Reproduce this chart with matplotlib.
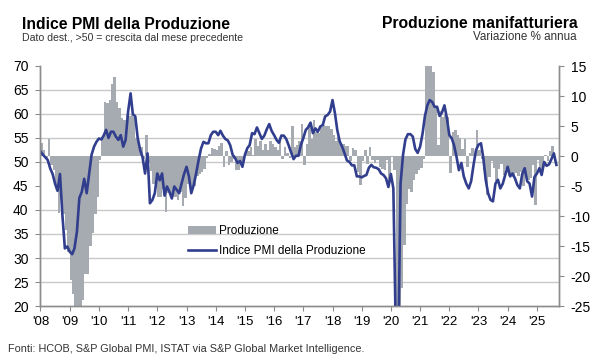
import matplotlib
matplotlib.use("Agg")
import matplotlib.pyplot as plt
import numpy as np
import pandas as pd

plt.rcParams["font.family"] = ["Liberation Sans", "DejaVu Sans"]

# PMI output index (left axis), monthly from Jan 2008 to Sep 2025
pmi_2008 = [52.2, 51.5, 51.0, 50.4, 48.7, 47.5, 45.5, 44.0, 47.5, 39.0, 32.0, 32.4]
pmi_2009 = [31.3, 30.8, 32.0, 35.5, 42.5, 43.8, 46.5, 43.5, 47.5, 51.5, 53.2, 54.2]
pmi_2010 = [54.9, 54.7, 55.5, 56.7, 55.0, 56.3, 56.3, 55.3, 54.6, 55.6, 53.2, 54.6]
pmi_2011 = [60.5, 64.3, 60.0, 59.5, 55.0, 52.5, 51.0, 47.6, 51.8, 41.4, 42.1, 43.5]
pmi_2012 = [47.6, 46.2, 47.6, 43.0, 44.9, 43.8, 42.4, 44.9, 44.2, 43.5, 45.6, 47.5]
pmi_2013 = [49.0, 46.9, 43.5, 45.2, 47.6, 50.4, 52.8, 54.2, 53.9, 53.9, 55.6, 56.3]
pmi_2014 = [56.3, 55.6, 56.5, 55.5, 54.8, 54.5, 53.5, 51.5, 50.8, 49.8, 50.2, 49.0]
pmi_2015 = [51.5, 52.9, 53.5, 56.0, 55.8, 57.2, 56.0, 54.8, 55.5, 56.8, 57.9, 56.5]
pmi_2016 = [55.6, 54.6, 54.0, 55.5, 55.5, 54.8, 53.5, 52.0, 50.6, 51.3, 51.3, 53.5]
pmi_2017 = [55.0, 56.7, 57.2, 58.2, 56.0, 57.0, 56.3, 57.4, 57.7, 59.5, 59.8, 60.5]
pmi_2018 = [62.9, 60.1, 56.7, 54.3, 53.2, 51.8, 50.3, 50.0, 49.3, 49.3, 47.0, 47.0]
pmi_2019 = [46.8, 47.1, 47.3, 48.8, 49.4, 48.9, 48.8, 48.5, 47.6, 47.3, 46.6, 44.8]
pmi_2020 = [47.5, 44.5, 16.0, 8.0, 45.5, 51.5, 54.7, 55.8, 55.8, 55.3, 52.7, 51.9]
pmi_2021 = [53.2, 56.0, 59.5, 61.8, 62.9, 62.5, 61.5, 61.5, 59.6, 60.3, 61.8, 59.2]
pmi_2022 = [55.6, 54.9, 53.5, 51.1, 48.3, 49.8, 47.0, 45.5, 44.5, 46.0, 49.5, 52.5]
pmi_2023 = [53.6, 53.9, 51.0, 46.3, 43.5, 42.1, 41.8, 45.5, 46.3, 44.5, 45.5, 47.3]
pmi_2024 = [49.0, 47.0, 47.6, 46.6, 45.2, 44.5, 47.5, 48.7, 46.0, 45.5, 42.8, 46.9]
pmi_2025 = [47.6, 48.7, 47.3, 50.0, 49.2, 49.5, 50.6, 51.8, 49.4]

# Manufacturing production, % y/y (right axis), Jan 2008 to Aug 2025
prod_2008 = [2.1, 1.0, -0.5, 2.9, -1.5, -2.3, -5.0, -9.5, -6.5, -9.6, -12.3, -16.0]
prod_2009 = [-20.7, -23.0, -26.0, -27.0, -25.5, -24.0, -19.6, -19.6, -15.0, -12.9, -9.6, -6.8]
prod_2010 = [-0.7, 3.0, 9.0, 8.8, 9.3, 12.0, 13.2, 9.0, 8.0, 6.3, 6.0, 6.8]
prod_2011 = [6.6, 7.0, 6.5, 3.0, 2.0, 1.5, -0.5, 3.5, -1.2, -2.5, -4.6, -5.1]
prod_2012 = [-6.8, -6.8, -5.5, -9.3, -6.2, -6.2, -6.8, -6.8, -7.3, -6.0, -8.4, -7.0]
prod_2013 = [-4.6, -4.0, -5.1, -5.0, -3.4, -3.0, -2.6, -2.2, -0.3, 0.3, 1.3, 1.2]
prod_2014 = [1.0, 1.6, 2.2, -1.8, 0.8, -1.5, -1.0, -0.5, -2.3, -2.3, -1.5, -1.0]
prod_2015 = [0.5, 0.8, 1.5, 0.2, 2.9, 1.6, 2.5, 1.0, 2.0, 1.0, 2.5, 2.0]
prod_2016 = [1.5, 1.0, 2.5, -0.5, 1.5, 0.5, -0.3, 5.0, 1.5, 1.8, 2.5, 5.4]
prod_2017 = [-1.5, 2.0, 5.4, 2.9, 6.0, 4.0, 3.8, 4.9, 5.2, 5.0, 5.0, 4.5]
prod_2018 = [3.5, 2.5, 3.2, 1.8, 2.0, 1.6, 1.6, -0.8, 1.3, 1.0, -2.6, -4.8]
prod_2019 = [-0.8, 1.0, -1.4, 1.5, -0.7, -1.2, -0.7, -1.8, -2.1, -2.4, -0.6, -4.3]
prod_2020 = [-0.1, -2.4, -29.0, -42.0, -22.0, -14.8, -8.0, -5.5, -6.0, -4.0, -3.0, -2.3]
prod_2021 = [-2.0, -0.5, 38.0, 79.0, 21.0, 14.0, 8.0, 1.8, 7.5, 6.5, 7.0, 6.5]
prod_2022 = [-2.9, 4.0, 4.3, 3.5, 3.0, 1.2, 2.9, -1.8, 0.5, 1.3, -0.5, 4.4]
prod_2023 = [1.0, -0.5, -2.3, -6.5, -3.5, -0.8, -2.0, -4.2, -2.1, -1.3, -3.1, -2.1]
prod_2024 = [-3.4, -3.1, -3.5, -2.9, -3.3, -2.6, -5.0, -3.2, -4.0, -3.6, -1.5, -8.2]
prod_2025 = [-0.6, -2.7, -1.8, 0.1, -0.9, 0.9, 1.7, -0.8]

pmi = np.concatenate([pmi_2008, pmi_2009, pmi_2010, pmi_2011, pmi_2012, pmi_2013,
                      pmi_2014, pmi_2015, pmi_2016, pmi_2017, pmi_2018, pmi_2019,
                      pmi_2020, pmi_2021, pmi_2022, pmi_2023, pmi_2024, pmi_2025])
prod = np.concatenate([prod_2008, prod_2009, prod_2010, prod_2011, prod_2012, prod_2013,
                       prod_2014, prod_2015, prod_2016, prod_2017, prod_2018, prod_2019,
                       prod_2020, prod_2021, prod_2022, prod_2023, prod_2024, prod_2025])

pmi_dates = pd.date_range("2008-01-01", periods=len(pmi), freq="MS")
prod_dates = pmi_dates[:len(prod)]

year_ticks = pd.date_range("2008-01-01", "2025-01-01", freq="YS")
year_labels = ["'" + d.strftime("%y") for d in year_ticks]
pmi_ticks = np.arange(20, 71, 5)
prod_ticks = np.arange(-25, 16, 5)
pmi_lim = (20, 70)
prod_lim = (-25, 15)

bar_color = "#a6abb1"
line_color = "#313e8e"
grid_color = "#c8c8c8"
axis_color = "#8c8c8c"


def pmi_to_prod(v):
    # position of a left-axis value on the right-axis scale (for gridlines)
    return prod_lim[0] + (np.asarray(v) - pmi_lim[0]) * (prod_lim[1] - prod_lim[0]) / (pmi_lim[1] - pmi_lim[0])


fig = plt.figure(figsize=(6, 3.6), dpi=100)
ax_bar = fig.add_axes([40 / 600, 1 - 306 / 360, 519 / 600, 240 / 360])
ax_pmi = ax_bar.twinx()

# bars: production, right axis
bars = ax_bar.bar(prod_dates, prod, width=31, align="edge", color=bar_color,
                  linewidth=0, label="Produzione")
ax_bar.set_ylim(*prod_lim)
ax_bar.yaxis.tick_right()
ax_bar.set_yticks(prod_ticks)
ax_bar.set_yticklabels([str(v) for v in prod_ticks])
ax_bar.set_yticks(pmi_to_prod(pmi_ticks), minor=True)
ax_bar.yaxis.grid(True, which="minor", color=grid_color, lw=1.0)
ax_bar.set_axisbelow(True)
ax_bar.tick_params(axis="y", which="minor", length=0, labelleft=False, labelright=False)
ax_bar.tick_params(axis="y", which="major", direction="out", length=3.3, width=0.8,
                   color=axis_color, labelsize=10, pad=5,
                   left=False, labelleft=False, right=True, labelright=True)

ax_bar.set_xlim(pd.Timestamp("2007-12-26"), pd.Timestamp("2025-10-04"))
ax_bar.set_xticks(year_ticks)
ax_bar.set_xticklabels(year_labels)
ax_bar.tick_params(axis="x", direction="out", length=3.3, width=0.8,
                   color=axis_color, labelsize=9.5, pad=4)

# line: PMI output, left axis
line, = ax_pmi.plot(pmi_dates, pmi, color=line_color, lw=1.9,
                    label="Indice PMI della Produzione")
ax_pmi.set_ylim(*pmi_lim)
ax_pmi.set_yticks(pmi_ticks)
ax_pmi.set_yticklabels([str(v) for v in pmi_ticks])
ax_pmi.tick_params(axis="y", direction="out", length=3.3, width=0.8,
                   color=axis_color, labelsize=10, pad=5,
                   left=True, labelleft=True, right=False, labelright=False)

for a in (ax_bar, ax_pmi):
    a.spines["top"].set_visible(False)
    for s in ("left", "right", "bottom"):
        a.spines[s].set_color(axis_color)
        a.spines[s].set_linewidth(1.0)

ax_pmi.legend(handles=[bars, line], loc="upper left", bbox_to_anchor=(0.285, 0.3375),
              frameon=False, fontsize=8.5, handlelength=2.4, handletextpad=0.2,
              labelspacing=0.65, borderaxespad=0, borderpad=0)

fig.text(22 / 600, 1 - 29.3 / 360, "Indice PMI della Produzione", fontsize=11.3,
         fontweight="bold", va="baseline")
fig.text(22 / 600, 1 - 41 / 360, "Dato dest., >50 = crescita dal mese precedente",
         fontsize=7.6, va="baseline", color="#333333")
fig.text(578 / 600, 1 - 28.5 / 360, "Produzione manifatturiera", fontsize=11.3,
         fontweight="bold", va="baseline", ha="right")
fig.text(577 / 600, 1 - 40.5 / 360, "Variazione % annua", fontsize=8.4,
         va="baseline", ha="right", color="#333333")
fig.text(8 / 600, 1 - 352 / 360,
         "Fonti: HCOB, S&P Global PMI, ISTAT via S&P Global Market Intelligence.",
         fontsize=7.8, va="baseline", color="#333333")

fig.savefig("out.png", dpi=100)
